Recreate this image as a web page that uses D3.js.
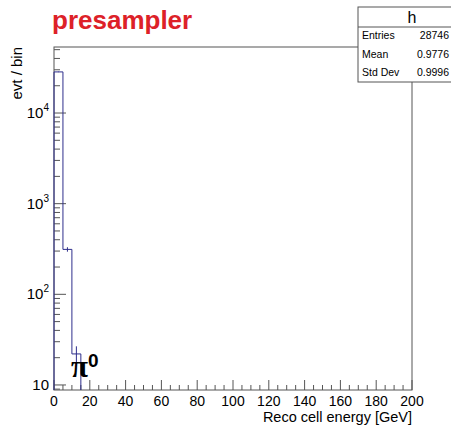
<!DOCTYPE html>
<html>
<head>
<meta charset="utf-8">
<script src="https://cdn.jsdelivr.net/npm/d3@7.9.0/dist/d3.min.js"></script>
<style>
  body { margin: 0; background: #fff; }
  svg { display: block; font-family: "Liberation Sans", Arial, sans-serif; }
</style>
</head>
<body>
<svg id="chart" width="451" height="425"></svg>
<script>
// histogram contents (5 GeV bins, only non-empty ones listed)
const binLow = [0, 5, 10];
const binCounts = [28411, 313, 22];
const binWidth = 5;

const xDomain = [0, 200];
const yDomain = [8.8, 53500];

const statsLabels = ['Entries', 'Mean', 'Std Dev'];
const statsValues = ['28746', '0.9776', '0.9996'];

const histColor = '#2e2e8c';
const axisColor = '#555';

const frame = { left: 54, right: 412, top: 47, bottom: 390 };

const svg = d3.select('#chart');

let x = d3.scaleLinear().domain(xDomain).range([frame.left, frame.right]);
let y = d3.scaleLog().domain(yDomain).range([frame.bottom, frame.top]);

// frame
svg.append('rect')
    .attr('x', frame.left).attr('y', frame.top)
    .attr('width', frame.right - frame.left).attr('height', frame.bottom - frame.top)
    .attr('fill', 'none').attr('stroke', axisColor).attr('stroke-width', 1);

// x ticks
let xMajor = x.ticks(10);
let xMinor = x.ticks(40).filter(t => !xMajor.includes(t));
xMinor.forEach(t => {
    svg.append('line')
        .attr('x1', x(t)).attr('x2', x(t))
        .attr('y1', frame.bottom).attr('y2', frame.bottom - 5)
        .attr('stroke', axisColor);
});
xMajor.forEach(t => {
    svg.append('line')
        .attr('x1', x(t)).attr('x2', x(t))
        .attr('y1', frame.bottom).attr('y2', frame.bottom - 10)
        .attr('stroke', axisColor);
    svg.append('text')
        .attr('x', x(t)).attr('y', frame.bottom + 16)
        .attr('text-anchor', 'middle')
        .attr('font-size', 14)
        .text(t);
});

// y ticks (log)
let yAll = y.ticks();
yAll.forEach(t => {
    let p = Math.log10(t);
    let major = Math.abs(p - Math.round(p)) < 1e-9;
    svg.append('line')
        .attr('x1', frame.left).attr('x2', frame.left + (major ? 12 : 6))
        .attr('y1', y(t)).attr('y2', y(t))
        .attr('stroke', axisColor);
    if (major) {
        let e = Math.round(p);
        let lab = svg.append('text')
            .attr('y', y(t) + 5)
            .attr('font-size', 15)
            .attr('text-anchor', 'end');
        if (e === 1) {
            lab.attr('x', frame.left - 5).text('10');
        } else {
            lab.attr('x', frame.left - 5);
            lab.append('tspan').text('10');
            lab.append('tspan').attr('dy', -7).attr('font-size', 10).text(e);
        }
    }
});

// histogram outline
let pts = [[xDomain[0], yDomain[0]]];
binLow.forEach((lo, i) => {
    pts.push([lo, binCounts[i]]);
    pts.push([lo + binWidth, binCounts[i]]);
});
pts.push([binLow[binLow.length - 1] + binWidth, yDomain[0]]);

let line = d3.line().x(d => x(d[0])).y(d => y(Math.max(d[1], yDomain[0])));
svg.append('path')
    .attr('d', line(pts))
    .attr('fill', 'none')
    .attr('stroke', histColor)
    .attr('stroke-width', 1);

// error bars
binLow.forEach((lo, i) => {
    let c = binCounts[i];
    let e = Math.sqrt(c);
    svg.append('line')
        .attr('x1', x(lo + binWidth / 2)).attr('x2', x(lo + binWidth / 2))
        .attr('y1', y(c - e)).attr('y2', y(c + e))
        .attr('stroke', histColor);
});

// title
svg.append('text')
    .attr('x', 52).attr('y', 29)
    .attr('font-size', 26).attr('font-weight', 'bold')
    .attr('fill', '#dd2128')
    .text('presampler');

// axis titles
svg.append('text')
    .attr('x', frame.right).attr('y', 422)
    .attr('text-anchor', 'end')
    .attr('font-size', 14.5)
    .text('Reco cell energy [GeV]');

svg.append('text')
    .attr('transform', `translate(22,${frame.top}) rotate(-90)`)
    .attr('text-anchor', 'end')
    .attr('font-size', 15)
    .text('evt / bin');

// pi0 label
let pi = svg.append('text').attr('x', 71).attr('y', 377);
pi.append('tspan').attr('font-family', '"Liberation Serif", serif')
    .attr('font-size', 31).attr('font-weight', 'bold').text('π');
pi.append('tspan').attr('font-size', 19).attr('font-weight', 'bold').attr('dy', -10).text('0');

// stats box
const box = { x: 358, y: 7, w: 110, h: 75, head: 20 };
svg.append('rect')
    .attr('x', box.x).attr('y', box.y).attr('width', box.w).attr('height', box.h)
    .attr('fill', '#fff').attr('stroke', axisColor);
svg.append('line')
    .attr('x1', box.x).attr('x2', box.x + box.w)
    .attr('y1', box.y + box.head).attr('y2', box.y + box.head)
    .attr('stroke', axisColor);
svg.append('text')
    .attr('x', 412).attr('y', box.y + 16)
    .attr('text-anchor', 'middle').attr('font-size', 16)
    .text('h');
statsLabels.forEach((s, i) => {
    let yy = box.y + box.head + 12 + i * 18.5;
    svg.append('text').attr('x', box.x + 4).attr('y', yy).attr('font-size', 10.5).text(s);
    svg.append('text').attr('x', 449).attr('y', yy).attr('font-size', 10.5)
        .attr('text-anchor', 'end').text(statsValues[i]);
});
</script>
</body>
</html>
